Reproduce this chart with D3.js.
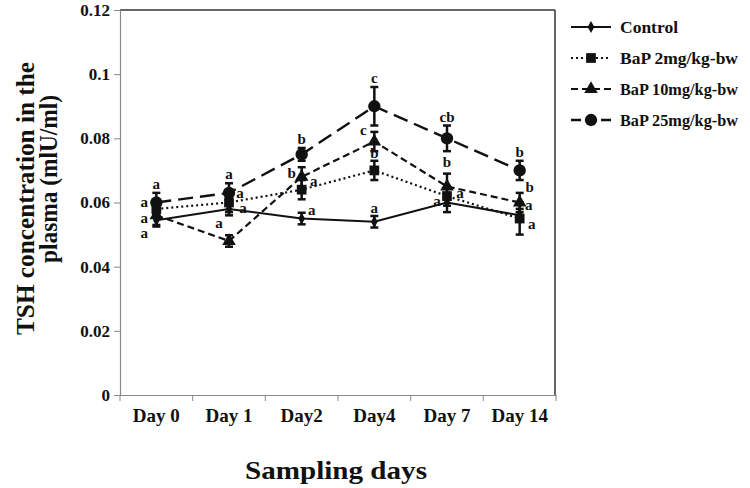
<!DOCTYPE html>
<html><head><meta charset="utf-8">
<script src="https://cdn.jsdelivr.net/npm/d3@7"></script>
<style>
body{margin:0;background:#fff;}
svg{display:block;}
text{font-family:"Liberation Serif","Times New Roman",serif;font-weight:bold;fill:#111;}
</style></head>
<body><svg id="c" width="750" height="488"></svg>
<script>
// ---- data ----
const days = ["Day 0","Day 1","Day2","Day4","Day 7","Day 14"];
const yTicks = [0, 0.02, 0.04, 0.06, 0.08, 0.1, 0.12];
const yTickLabels = ["0","0.02","0.04","0.06","0.08","0.1","0.12"];
const seriesNames = ["Control","BaP 2mg/kg-bw","BaP 10mg/kg-bw","BaP 25mg/kg-bw"];
const control   = [0.0545, 0.058, 0.055, 0.054, 0.060, 0.056];
const controlErr= [0.0020, 0.0020, 0.0018, 0.0018, 0.0030, 0.0020];
const bap2      = [0.058, 0.060, 0.064, 0.070, 0.062, 0.055];
const bap2Err   = [0.0020, 0.0030, 0.0030, 0.0030, 0.0030, 0.0050];
const bap10     = [0.056, 0.048, 0.068, 0.079, 0.065, 0.060];
const bap10Err  = [0.0030, 0.0018, 0.0030, 0.0030, 0.0040, 0.0030];
const bap25     = [0.060, 0.063, 0.075, 0.090, 0.080, 0.070];
const bap25Err  = [0.0030, 0.0030, 0.0020, 0.0060, 0.0040, 0.0030];
const controlLetters = ["a","a","a","a","a","a"];
const bap2Letters    = ["a","a","a","b","a","a"];
const bap10Letters   = ["a","a","b","c","b","b"];
const bap25Letters   = ["a","a","b","c","cb","b"];

// ---- layout (letter offsets from each point, px) ----
const letterOffsets = [
  [[-12,-2],[14,-1],[10,-9],[0,-14],[-10,-2],[9,-10]],
  [[-12,-7],[11,-10],[12,-9],[0,-17],[13,-3],[12,5]],
  [[-12,18],[-10,-18],[-10,-4],[-11,-12],[0,-24],[10,-16]],
  [null,null,null,null,null,null]
];

const svg = d3.select("#c");
const L = 120, R = 556, T = 10, B = 395;
const x = d3.scaleBand().domain(days).range([L, R]);
const y = d3.scaleLinear().domain([0, 0.12]).range([B, T]);
const cx = d => x(d) + x.bandwidth()/2;

// frame top/right
svg.append("line").attr("x1",L).attr("x2",R-1).attr("y1",T).attr("y2",T).attr("stroke","#333").attr("stroke-width",1.5);
svg.append("line").attr("x1",R-1).attr("x2",R-1).attr("y1",T).attr("y2",B).attr("stroke","#333").attr("stroke-width",1.5);

// y axis
const yAxis = svg.append("g").attr("transform",`translate(${L},0)`)
  .call(d3.axisLeft(y).tickValues(yTicks).tickSize(6).tickFormat((d,i)=>yTickLabels[i]));
yAxis.select(".domain").attr("stroke","#888").attr("stroke-width",1.2);
yAxis.selectAll(".tick line").attr("stroke","#888");
yAxis.selectAll(".tick text").attr("x",-10).style("font-size","17px").style("font-family","Liberation Serif").style("font-weight","bold").attr("fill","#111");

// x axis
const xAxis = svg.append("g").attr("transform",`translate(0,${B})`)
  .call(d3.axisBottom(x).tickSize(0).tickPadding(0));
xAxis.select(".domain").attr("stroke","#888").attr("stroke-width",1.2);
xAxis.selectAll(".tick text").attr("y",27).attr("dy",0).style("font-size","19px").style("font-family","Liberation Serif").style("font-weight","bold").attr("fill","#111");
const bounds = days.map(d=>x(d)).concat([R]);
svg.selectAll(".xb").data(bounds).enter().append("line")
  .attr("x1",d=>d).attr("x2",d=>d).attr("y1",B).attr("y2",B+6).attr("stroke","#888");

// titles
svg.append("text").attr("x",336).attr("y",479).attr("text-anchor","middle")
  .style("font-size","25px").attr("textLength",182).attr("lengthAdjust","spacingAndGlyphs").text("Sampling days");
svg.append("text").attr("transform","translate(34,198.5) rotate(-90)").attr("text-anchor","middle")
  .style("font-size","25px").attr("textLength",273).attr("lengthAdjust","spacingAndGlyphs").text("TSH concentration in the");
svg.append("text").attr("transform","translate(57,179) rotate(-90)").attr("text-anchor","middle")
  .style("font-size","25px").attr("textLength",168).attr("lengthAdjust","spacingAndGlyphs").text("plasma (mlU/ml)");

// series
const series = [
  {name:seriesNames[0], v:control, e:controlErr, l:controlLetters, dash:null, w:2, mark:"diamond"},
  {name:seriesNames[1], v:bap2, e:bap2Err, l:bap2Letters, dash:"2,3", w:2.2, mark:"square"},
  {name:seriesNames[2], v:bap10, e:bap10Err, l:bap10Letters, dash:"7,4", w:2.2, mark:"triangle"},
  {name:seriesNames[3], v:bap25, e:bap25Err, l:bap25Letters, dash:"15,7", w:2.4, mark:"circle"}
];
const symbols = {
  diamond: d3.symbol().type(d3.symbolDiamond).size(40),
  square: d3.symbol().type(d3.symbolSquare).size(95),
  triangle: d3.symbol().type(d3.symbolTriangle).size(80),
  circle: d3.symbol().type(d3.symbolCircle).size(120)
};
const line = d3.line().x((d,i)=>cx(days[i])).y(d=>y(d));

series.forEach(s=>{
  svg.append("path").datum(s.v).attr("d",line).attr("fill","none").attr("stroke","#111")
    .attr("stroke-width",s.w).attr("stroke-dasharray",s.dash);
});
series.forEach(s=>{
  const g = svg.append("g");
  s.v.forEach((v,i)=>{
    const xx = cx(days[i]);
    const y1 = y(v + s.e[i]), y2 = y(v - s.e[i]);
    g.append("line").attr("x1",xx).attr("x2",xx).attr("y1",y1).attr("y2",y2).attr("stroke","#111").attr("stroke-width",2.5);
    [y1,y2].forEach(yy=>g.append("line").attr("x1",xx-4).attr("x2",xx+4).attr("y1",yy).attr("y2",yy).attr("stroke","#111").attr("stroke-width",2.5));
  });
});
series.forEach(s=>{
  svg.append("g").selectAll("path").data(s.v).enter().append("path")
    .attr("d",symbols[s.mark]).attr("fill","#111")
    .attr("transform",(d,i)=>`translate(${cx(days[i])},${y(d)})`);
});
series.forEach((s,si)=>{
  s.v.forEach((v,i)=>{
    const off = letterOffsets[si][i];
    let tx, ty;
    if (off) { tx = cx(days[i]) + off[0]; ty = y(v) + off[1]; }
    else { tx = cx(days[i]); ty = y(v + s.e[i]) - 9; }
    svg.append("text").attr("x",tx).attr("y",ty).attr("text-anchor","middle")
      .attr("dominant-baseline","central").style("font-size","15px").text(s.l[i]);
  });
});

// legend
const lg = svg.append("g");
const ly = [27, 58, 89, 120];
series.forEach((s,i)=>{
  lg.append("line").attr("x1",571).attr("x2",611).attr("y1",ly[i]).attr("y2",ly[i])
    .attr("stroke","#111").attr("stroke-width",s.w).attr("stroke-dasharray",s.dash ? (s.mark==="circle"?"10,5":s.dash):null);
  lg.append("path").attr("d",symbols[s.mark]).attr("fill","#111").attr("transform",`translate(591,${ly[i]})`);
  lg.append("text").attr("x",620).attr("y",ly[i]).attr("dominant-baseline","central")
    .style("font-size","17px").attr("textLength", i===0?58:118).attr("lengthAdjust","spacingAndGlyphs").text(s.name);
});
</script></body></html>
